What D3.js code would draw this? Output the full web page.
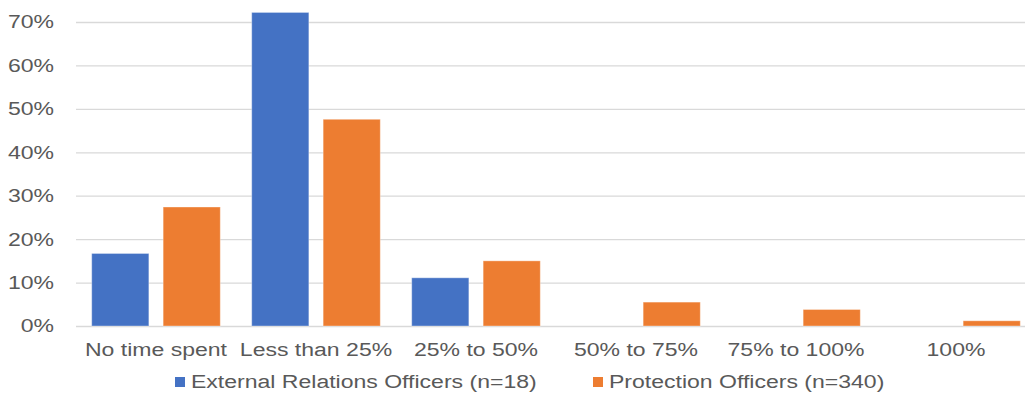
<!DOCTYPE html>
<html>
<head>
<meta charset="utf-8">
<script src="https://cdn.jsdelivr.net/npm/d3@7"></script>
<style>
  html, body { margin: 0; padding: 0; background: #fff; }
  svg { display: block; }
  text { font-family: "Liberation Sans", Arial, sans-serif; fill: #595959; }
</style>
</head>
<body>
<svg id="chart" width="1025" height="394"></svg>
<script>
// Share of working time, by response category
const categories = ["No time spent", "Less than 25%", "25% to 50%", "50% to 75%", "75% to 100%", "100%"];
const seriesNames = ["External Relations Officers (n=18)", "Protection Officers (n=340)"];
const externalRelations = [16.7, 72.2, 11.1, 0, 0, 0];
const protection = [27.4, 47.6, 15.0, 5.5, 3.8, 1.2];
const yTicks = [0, 10, 20, 30, 40, 50, 60, 70];
const colors = ["#4472C4", "#ED7D31"];

const seriesValues = [externalRelations, protection];
const rows = categories.map((c, i) => ({
  category: c,
  values: seriesNames.map((s, k) => ({ series: s, value: seriesValues[k][i] }))
}));

const svg = d3.select("#chart");
const plotLeft = 76, plotRight = 1036, plotTop = 22, plotBottom = 326;
const stretch = 1.28; // horizontal widening of the label glyphs

const x0 = d3.scaleBand().domain(categories).range([plotLeft, plotRight]).padding(0);
const x1 = d3.scaleBand().domain(seriesNames).range([0, x0.bandwidth()])
  .paddingInner(0.2).paddingOuter(0.22);
const y = d3.scaleLinear().domain([0, 70]).range([plotBottom, plotTop]);

// Gridlines and y labels
const yAxis = svg.append("g")
  .attr("transform", `translate(${plotLeft},0)`)
  .call(d3.axisLeft(y).tickValues(yTicks).tickFormat(d => d + "%")
    .tickSizeInner(-(plotRight - plotLeft)).tickSizeOuter(0));
yAxis.select(".domain").remove();
yAxis.selectAll(".tick line").attr("stroke", "#D9D9D9").attr("stroke-width", 1.3);
yAxis.selectAll(".tick text")
  .attr("x", 0).attr("dy", "0.33em")
  .attr("text-anchor", "end")
  .attr("transform", `translate(-22,0) scale(${stretch},1)`)
  .style("font-size", "18px").style("fill", "#595959");

// Bars
const groups = svg.append("g").selectAll("g")
  .data(rows).join("g")
  .attr("transform", d => `translate(${x0(d.category)},0)`);
groups.selectAll("rect")
  .data(d => d.values.filter(v => v.value > 0))
  .join("rect")
  .attr("x", d => x1(d.series))
  .attr("width", x1.bandwidth())
  .attr("y", d => y(d.value))
  .attr("height", d => y(0) - y(d.value))
  .attr("fill", d => colors[seriesNames.indexOf(d.series)])
  .attr("stroke", "#fff").attr("stroke-opacity", 0.35).attr("stroke-width", 1);

// Category labels
const xAxis = svg.append("g")
  .attr("transform", `translate(0,${plotBottom})`)
  .call(d3.axisBottom(x0).tickSize(0));
xAxis.select(".domain").remove();
xAxis.selectAll(".tick text")
  .attr("y", 0).attr("dy", 0)
  .attr("transform", `translate(0,30) scale(${stretch},1)`)
  .style("font-size", "18px").style("fill", "#595959");

// Legend
const legendX = [175, 593];
const legend = svg.append("g").selectAll("g")
  .data(seriesNames).join("g")
  .attr("transform", (d, i) => `translate(${legendX[i]},377)`);
legend.append("rect")
  .attr("width", 10).attr("height", 10)
  .attr("fill", (d, i) => colors[i]);
legend.append("text")
  .attr("x", 0).attr("y", 0)
  .attr("transform", `translate(16,11) scale(${stretch},1)`)
  .style("font-size", "18px")
  .text(d => d);
</script>
</body>
</html>
